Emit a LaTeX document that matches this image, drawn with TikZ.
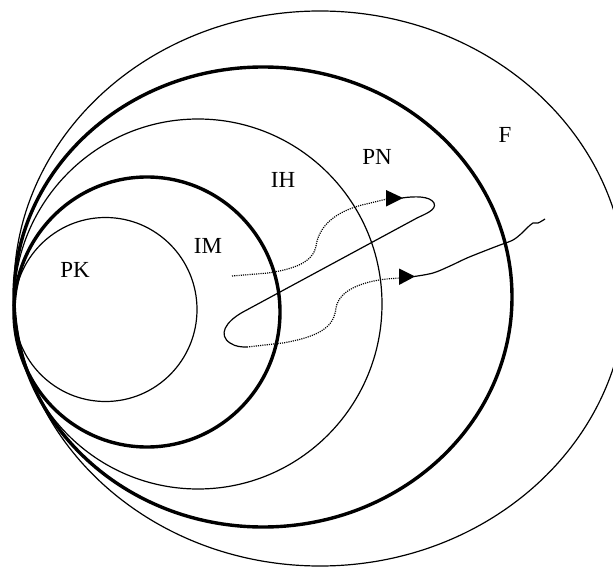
\documentclass[tikz,border=0pt]{standalone}
\usepackage{fontspec}
\setmainfont{Liberation Serif}
\begin{document}
\begin{tikzpicture}[x=1pt,y=-1pt,
  thinring/.style={line width=1.2pt},
  thickring/.style={line width=3.4pt},
  lbl/.style={font=\fontsize{23}{26}\selectfont, inner sep=0pt},
  dotline/.style={line width=1.2pt, dash pattern=on 1.1pt off 1.1pt},
  solidline/.style={line width=1.2pt, line join=round},
  tiphead/.style={fill=black}]
\useasboundingbox (0,0) rectangle (613,567);
% rings
\draw[thinring]  (320,288.5) ellipse [x radius=306, y radius=277.5];
\draw[thickring] (263,297)   ellipse [x radius=249, y radius=230];
\draw[thinring]  (198,304)   ellipse [x radius=184, y radius=185];
\draw[thickring] (147,312)   ellipse [x radius=133, y radius=135];
\draw[thinring]  (105.5,309.5) ellipse [x radius=91.5, y radius=92];
% labels
\node[lbl] (pk) at (75,270) {PK};
\node[lbl] (im) at (208,246) {IM};
\node[lbl] (ih) at (283,180) {IH};
\node[lbl] (pn) at (377,157) {PN};
\node[lbl] (f)  at (505,135) {F};
% path points
\coordinate (s0) at (232,276);
\coordinate (a1) at (387,199);
\coordinate (t1) at (402,198);
\coordinate (l1) at (247,347);
\coordinate (a2) at (400,278);
\coordinate (t2) at (414,276.5);
% dotted part 1
\draw[dotline] (s0) -- (268,273) .. controls (295,269) and (313,262) .. (316,246)
  .. controls (319,226) and (335,212) .. (362,205) -- (a1);
\fill[tiphead] (386,190) -- (403,198) -- (386,206.5) -- cycle;
% solid loop
\draw[solidline] (t1) .. controls (415,196) and (430,196) .. (434,203)
  .. controls (437,210) and (425,214) .. (417,218) -- (243,312)
  .. controls (225,322) and (218,335) .. (230,343)
  .. controls (236,347) and (242,347) .. (l1);
% dotted part 2
\draw[dotline] (l1) -- (283,343) .. controls (322,336) and (334,326) .. (336,308)
  .. controls (339,290) and (362,282) .. (386,279) -- (a2);
\fill[tiphead] (399,268.5) -- (415,276.5) -- (399,285) -- cycle;
% wavy tail
\draw[solidline] plot[smooth, tension=0.6] coordinates {(t2) (433,273) (450,266) (467,258) (487,250) (500,245) (513,240) (522,233) (527,228) (533,223) (538,223) (545,219)};
\end{tikzpicture}
\end{document}
